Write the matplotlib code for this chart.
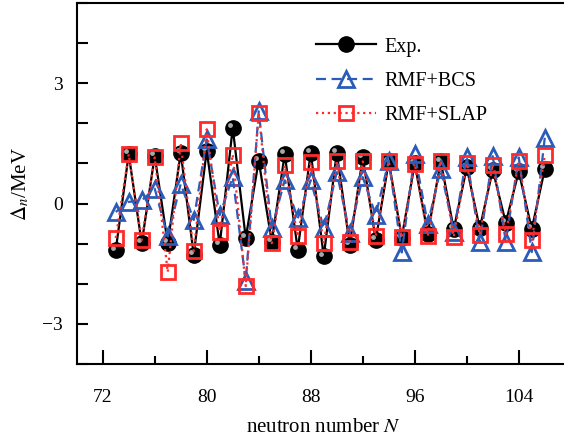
import numpy as np
import matplotlib
matplotlib.use("Agg")
import matplotlib.pyplot as plt
import matplotlib.transforms as mtransforms
from matplotlib.ticker import MultipleLocator

plt.rcParams['font.family'] = ['Liberation Serif', 'DejaVu Serif']
plt.rcParams['mathtext.fontset'] = 'stix'

# neutron number
N = list(range(73, 107))

# odd-even staggering of the neutron gap (MeV)
exp = [-1.17, 1.23, -0.99, 1.19, -0.99, 1.27, -1.28, 1.32, -1.03, 1.89,
       -0.86, 1.07, -0.95, 1.23, -1.15, 1.27, -1.32, 1.27, -1.03, 1.15,
       -0.91, 1.05, -0.85, 1.00, -0.75, 1.05, -0.64, 0.90, -0.62, 0.84,
       -0.48, 0.80, -0.64, 0.86]
bcs = [-0.21, 0.04, 0.08, 0.37, -0.82, 0.49, -0.41, 1.60, -0.29, 0.66,
       -1.94, 2.30, -0.62, 0.58, -0.37, 0.58, -0.62, 0.78, -0.74, 0.66,
       -0.29, 1.07, -1.22, 1.23, -0.51, 0.86, -0.70, 1.17, -0.97, 1.18,
       -0.95, 1.15, -1.21, 1.64]
slap = [-0.86, 1.23, -0.91, 1.15, -1.71, 1.50, -1.19, 1.85, -0.70, 1.22,
        -2.06, 2.26, -0.99, 0.95, -0.82, 1.03, -0.99, 1.05, -0.95, 1.05,
        -0.81, 1.05, -0.84, 0.99, -0.81, 1.06, -0.83, 1.00, -0.78, 0.97,
        -0.77, 1.06, -0.91, 1.20]

fig = plt.figure(figsize=(5.64, 4.4), dpi=100)
ax = fig.add_axes([0.136, 0.173, 0.876, 0.820])

blue = '#2a5cb8'
red = '#ff2a2a'

ax.plot(N, exp, '-', color='black', lw=1.6, marker='o', ms=11,
        mfc='black', mec='black', label='Exp.', zorder=3)
# sphere highlight
shift = mtransforms.ScaledTranslation(-2 / 72, 2 / 72, fig.dpi_scale_trans)
ax.plot(N, exp, 'o', ms=3.5, color='#a8a8a8', mec='none',
        transform=ax.transData + shift, zorder=3.1)
ax.plot(N, bcs, '--', color=blue, lw=1.6, dashes=(4.5, 2.5), marker='^', ms=12,
        mfc='none', mec=blue, mew=2, label='RMF+BCS', zorder=4)
ax.plot(N, slap, ':', color=red, lw=1.6, marker='s', ms=10,
        mfc='none', mec=red, mew=2, label='RMF+SLAP', zorder=5)

ax.set_xlim(70, 108)
ax.set_ylim(-4, 5)
ax.set_xticks([72, 80, 88, 96, 104])
ax.xaxis.set_minor_locator(MultipleLocator(4))
ax.yaxis.set_minor_locator(MultipleLocator(1))
ax.set_yticks([-3, 0, 3])
ax.set_yticklabels(['\u22123', '0', '3'])
ax.tick_params(which='both', direction='in', width=1.5, labelsize=14)
ax.tick_params(axis='x', which='major', length=10, pad=18)
ax.tick_params(axis='x', which='minor', length=6)
ax.tick_params(axis='y', which='both', length=8, pad=10)
for s in ax.spines.values():
    s.set_linewidth(1.5)
ax.spines['right'].set_visible(False)

ax.set_xlabel('neutron number $N$', fontsize=15, labelpad=9)
ax.set_ylabel(r'$\Delta_n$/MeV', fontsize=15, labelpad=8)

ax.legend(loc='upper left', bbox_to_anchor=(0.447, 0.955), frameon=False,
          fontsize=14.5, handlelength=3.0, handletextpad=0.4, labelspacing=0.75,
          markerscale=1.0)

fig.savefig('out.png', dpi=100)
